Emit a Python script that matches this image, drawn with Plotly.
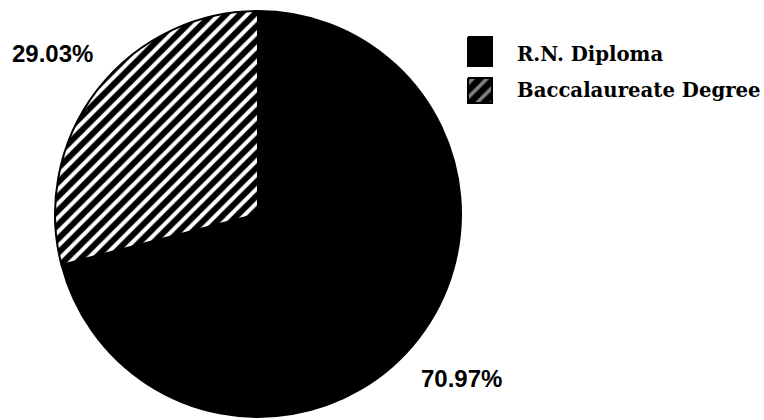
import plotly.graph_objects as go

# Nursing education of respondents
categories = ["R.N. Diploma", "Baccalaureate Degree"]
shares = [70.97, 29.03]

W, H = 764, 420

fig = go.Figure()

fig.add_trace(go.Pie(
    labels=categories,
    values=shares,
    sort=False,
    direction="clockwise",
    rotation=0,
    textinfo="none",
    hoverinfo="label+percent",
    showlegend=False,
    marker=dict(
        colors=["black", "white"],
        line=dict(color="black", width=2),
        pattern=dict(shape=["", "/"], fgcolor="black", bgcolor="white",
                     size=10, solidity=0.6),
    ),
    domain=dict(x=[55 / W, 461 / W], y=[1 - 417 / H, 1 - 11 / H]),
))

# Legend swatches drawn on a pixel-space overlay axis
swatch_x = [468, 492]
swatch_rows = [(37, 66), (78, 103)]
swatch_patterns = ["", "/"]
for (y0, y1), pat in zip(swatch_rows, swatch_patterns):
    fig.add_trace(go.Scatter(
        x=[swatch_x[0], swatch_x[1], swatch_x[1], swatch_x[0], swatch_x[0]],
        y=[y0, y0, y1, y1, y0],
        mode="lines",
        fill="toself",
        fillcolor="black" if pat == "" else "white",
        fillpattern=dict(shape=pat, fgcolor="white", bgcolor="black",
                         size=10, solidity=0.35) if pat else None,
        line=dict(color="black", width=2),
        hoverinfo="skip",
        showlegend=False,
    ))

legend_y = [54, 90]
for name, y in zip(categories, legend_y):
    fig.add_annotation(
        x=515, y=y, xref="x", yref="y", text=f"<b>{name}</b>",
        showarrow=False, xanchor="left", yanchor="middle",
        font=dict(family="DejaVu Serif", size=19.7, color="black"),
    )

# Percentage labels next to each slice
label_pos = [(52, 53), (461, 378)]
for v, (px, py) in zip(shares[::-1], label_pos):
    fig.add_annotation(
        x=px, y=py, xref="x", yref="y", text=f"<b>{v:.2f}%</b>",
        showarrow=False, xanchor="center", yanchor="middle",
        font=dict(family="Liberation Sans", size=24, color="black"),
    )

fig.update_layout(
    width=W, height=H,
    margin=dict(l=0, r=0, t=0, b=0),
    paper_bgcolor="white",
    plot_bgcolor="rgba(0,0,0,0)",
    xaxis=dict(range=[0, W], visible=False, domain=[0, 1], fixedrange=True),
    yaxis=dict(range=[H, 0], visible=False, domain=[0, 1], fixedrange=True),
)

fig.write_html("out.html")
